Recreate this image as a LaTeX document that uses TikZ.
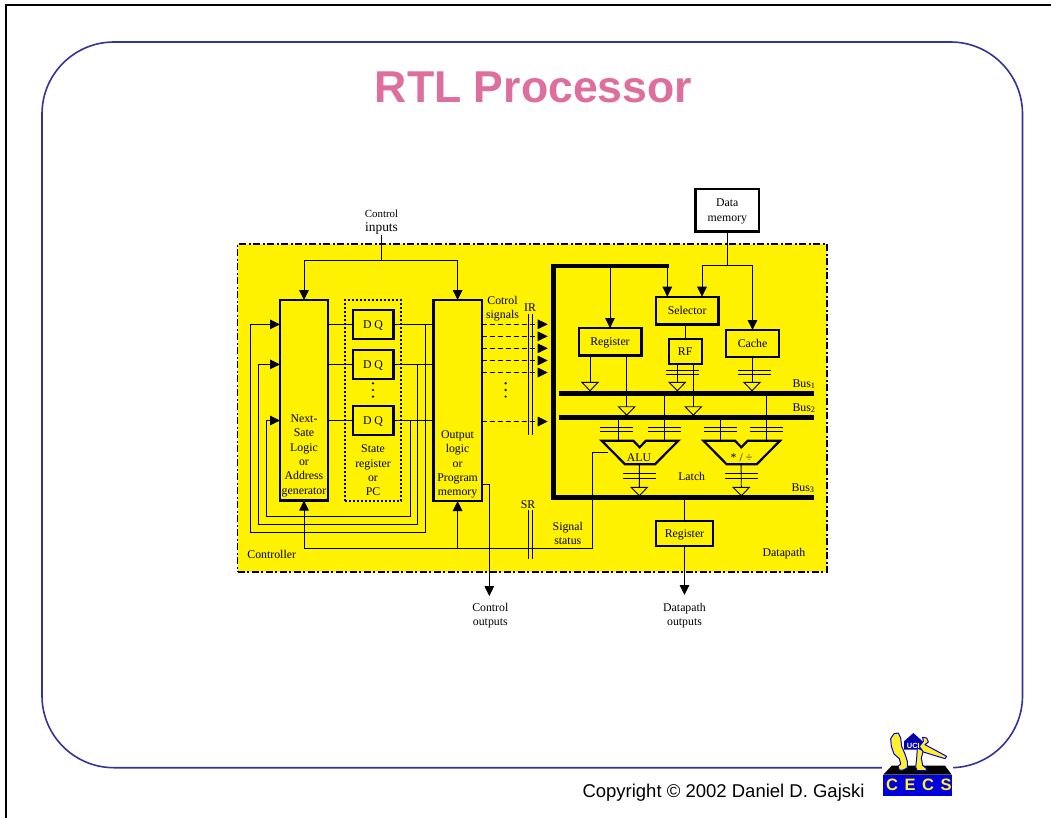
\documentclass[tikz,border=0pt]{standalone}
\usepackage{fontspec}
\setmainfont{Liberation Serif}
\newfontfamily\slidefont{Liberation Sans}
\usepackage{tikz}
\usetikzlibrary{
	arrows.meta, positioning, calc
}
\definecolor{chipyellow}   {RGB}{255, 242,   0}
\definecolor{slideblue}    {RGB}{ 51,  51, 153}
\definecolor{titlepink}    {RGB}{221, 110, 158}
\definecolor{logoblue}     {RGB}{  0,   0, 220}
\definecolor{logoyellow}   {RGB}{255, 240,  40}
\tikzset{
	bigtip/.tip={Triangle[length=10pt,width=9.6pt]},
	wire/.style={line width=0.9pt},
	feed/.style={wire,-{bigtip}},
	ctrl/.style={wire,dash pattern=on 5pt off 3pt,-{bigtip}},
	busline/.style={line width=4.4pt},
	blockbox/.style={draw,line width=2.4pt,fill=chipyellow,inner sep=0pt,outer sep=0pt,text depth=0pt,
		font=\fontsize{11.8}{14.4}\selectfont,align=center},
	lbl/.style={inner sep=0pt,outer sep=0pt,align=center,yshift=-1.2pt,font=\fontsize{11.8}{14.4}\selectfont},
	logopart/.style={draw=logoblue,fill=logoyellow,line width=1pt,line join=round},
	tribuf/.pic={\draw[wire,line join=miter] (-8.2,0)--(8.2,0)--(0,8.4)--cycle;},
	latchpair/.pic={\draw[wire] (-16.5,0)--(16.5,0) (-16.5,4.3)--(16.5,4.3);}
}
\begin{document}
\begin{tikzpicture}[x=1pt,y=-1pt]
	\useasboundingbox (0,0) rectangle (1051,818);
	% slide
	\fill[white] (0,0) rectangle (1051,818);
	\draw[line width=2pt] (1051,5.5)--(6,5.5)--(6,818);
	\draw[slideblue,line width=1.6pt,rounded corners=72pt] (42,42) rectangle (1022.5,767.7);
	\node[anchor=base,inner sep=0pt,text=titlepink,font=\slidefont\bfseries\fontsize{44.6}{50}\selectfont] (title) at (533.5,103) {RTL Processor};
	\node[anchor=base west,inner sep=0pt,font=\slidefont\fontsize{18.5}{22}\selectfont] (copy) at (582.3,797) {Copyright © 2002 Daniel D. Gajski};

	% yellow area
	\node[draw,fill=chipyellow,line width=1.8pt,dash pattern=on 7pt off 2.5pt on 2pt off 2.5pt,inner sep=0pt,outer sep=0pt,
		minimum width=589.5,minimum height=327.7] (chip) at (532.3,407.9) {};

	% controller
	\node[blockbox,minimum width=48,minimum height=200.6] (nextstate) at (304,400.3) {};
	\node[blockbox,minimum width=48.2,minimum height=201] (output) at (457.6,400.5) {};
	\node[draw,line width=2pt,dash pattern=on 2pt off 2pt,inner sep=0pt,outer sep=0pt,minimum width=56,minimum height=200.6] (statereg) at (373,400.3) {};
	\foreach \i/\y in {1/324.4,2/364.4,3/420.5}{
		\node[blockbox,minimum width=40.6,minimum height=28.6] (dq\i) at (373,\y) {D Q};
		\draw[wire] (nextstate.east |- dq\i.west) -- (dq\i.west);
		\draw[wire] (dq\i.east) -- (output.west |- dq\i.east);
	}
	% feedback loops
	\foreach \i/\tap/\out/\low in {1/425.7/250.7/532.3,2/417.7/258.7/524.3,3/410/266.3/516.3}{
		\coordinate (tap\i) at (\tap,0 |- dq\i.east);
		\coordinate (low\i) at (\out,\low);
		\draw[feed] (tap\i) |- (low\i) |- (nextstate.west |- dq\i.west);
	}
	\node[lbl] (nextlbl) at (304,454.5) {Next-\\Sate\\Logic\\or\\Address\\generator};
	\node[lbl] (outlbl) at (457.6,463.2) {Output\\logic\\or\\Program\\memory};
	\node[lbl] (statelbl) at (373,469.3) {State\\register\\or\\PC};
	\foreach \y in {383.3,390,396.6}{
		\fill (373,\y) circle (1.2pt);
		\fill (505.6,\y) circle (1.2pt);
	}

	% control in and out
	\node[lbl,font=\fontsize{10.9}{13}\selectfont] (ctrlin) at (381.5,212.5) {Control};
	\node[lbl,font=\fontsize{13.4}{15}\selectfont] (ctrlinb) at (381.5,227) {inputs};
	\coordinate (inj) at (381.7,260.5);
	\draw[wire] (381.7,235) -- (inj);
	\draw[feed] (inj) -| (nextstate.north);
	\draw[feed] (inj) -| (output.north);
	\coordinate (outj) at (489.3,596);
	\draw[feed] (output.east |- 0,484.3) -| (outj);
	\node[lbl] (ctrlout) at (490.3,614.3) {Control\\outputs};

	% control signals
	\foreach \n/\y in {1/324.3,2/336.3,3/348.3,4/360.5,5/372.5,6/421.5}{
		\coordinate (sig\n) at (547.7,\y);
		\draw[ctrl] (output.east |- sig\n) -- (sig\n);
	}
	\draw[wire] (528.3,314.3)--(528.3,435) (532.2,314.3)--(532.2,435);
	\draw[wire] (528.3,510)--(528.3,559) (532.2,510)--(532.2,559);
	\node[lbl] (cotrol) at (502.5,307.5) {Cotrol\\signals};
	\node[lbl] (irlbl) at (530,306) {IR};
	\node[lbl] (srlbl) at (528,503) {SR};
	\node[lbl] (siglbl) at (567.8,532.2) {Signal\\status};
	\node[lbl] (ctrllbl) at (271.7,553) {Controller};
	\node[lbl] (datalbl) at (784,552.7) {Datapath};

	% datapath busses
	\coordinate (btop) at (669,265.7);
	\coordinate (bcorner) at (553.3,265.7);
	\coordinate (bcornerb) at (553.3,497.3);
	\coordinate (b3r) at (814,497.3);
	\coordinate (b1l) at (559,393.3);
	\coordinate (b1r) at (814,393.3);
	\coordinate (b2l) at (559,417.3);
	\coordinate (b2r) at (814,417.3);
	\draw[busline,line join=miter] (btop)--(bcorner)--(bcornerb)--(b3r);
	\draw[busline] (b1l)--(b1r);
	\draw[busline] (b2l)--(b2r);
	\node[lbl] (bus1) at (804,383) {Bus\textsubscript{1}};
	\node[lbl] (bus2) at (804,407) {Bus\textsubscript{2}};
	\node[lbl] (bus3) at (803,487) {Bus\textsubscript{3}};

	% blocks
	\node[blockbox,fill=white,minimum width=63.3,minimum height=42.7] (datamem) at (727.3,210.3) {Data\\memory};
	\node[blockbox,minimum width=62.3,minimum height=27.6] (selector) at (687.2,310.5) {Selector};
	\node[blockbox,minimum width=62.6,minimum height=27.3] (regtop) at (610,341.7) {Register};
	\node[blockbox,minimum width=53,minimum height=27] (cache) at (752.5,343.5) {Cache};
	\node[blockbox,minimum width=33,minimum height=25] (rf) at (685.2,351.5) {RF};
	\node[blockbox,minimum width=57,minimum height=25] (regout) at (684.5,533.5) {Register};

	\coordinate (memj) at (727.3,265.5);
	\draw[wire] (datamem.south) -- (memj);
	\draw[feed] (memj) -| (702,0 |- selector.north);
	\draw[feed] (memj) -| (cache.north);
	\draw[feed] (667.3,265.7) -- (667.3,0 |- selector.north);
	\draw[feed] (regtop.north |- btop) -- (regtop.north);
	\draw[wire] (rf.north |- selector.south) -- (rf.north);

	% tri-state buffers
	\foreach \n/\x/\y in {r1/590/382.3,r2/626.7/406.7,f1/677.3/382.3,f2/693.3/406.7,c1/752/382.3,a1/639.3/487.3,m1/741.3/487.3}{
		\coordinate (buf\n) at (\x,\y);
		\pic at (buf\n) {tribuf};
	}
	\draw[wire] (regtop.south -| bufr1) -- (bufr1);
	\draw[wire] (regtop.south -| bufr2) -- (bufr2);
	\draw[wire] (rf.south -| buff1) -- (buff1);
	\draw[wire] (rf.south -| buff2) -- (buff2);
	\draw[wire] (cache.south -| bufc1) -- (bufc1);

	% latches
	\foreach \x/\y in {682.5/370,754.2/370,616.7/427.5,664.7/427.5,720.3/427.5,766.4/427.5,639.6/473.7,741.4/473.7}{
		\pic at (\x,\y) {latchpair};
	}

	% alu and multiplier
	\foreach \n/\dx in {alu/0,mul/101.7}{
		\draw[line width=2.2pt,line join=miter,shift={(\dx,0)}] (601.7,440.7)--(633.3,440.7)--(639.6,447.3)--(646,440.7)--(678.3,440.7)--(655,464.3)--(625,464.3)--cycle;
		\coordinate (\n i1) at ($(618.7,440.7)+(\dx,0)$);
		\coordinate (\n i2) at ($(664.3,440.7)+(\dx,0)$);
		\draw[wire] (\n i1 |- b2l) -- (\n i1);
		\draw[wire] (\n i2 |- b1l) -- (\n i2);
		\coordinate (\n o) at ($(639.4,464.3)+(\dx,0)$);
	}
	\draw[wire] (aluo) -- (bufa1);
	\draw[wire] (mulo) -- (bufm1);
	\node[lbl] (alulbl) at (639,456) {ALU};
	\node[lbl] (mullbl) at (741.5,456.5) {* / ÷};
	\node[lbl] (latchlbl) at (691.7,475) {Latch};

	% status and register output
	\coordinate (aluside) at (608.3,452.7);
	\coordinate (statj) at (457.6,548.3);
	\draw[feed] (aluside) -- (592.7,452.7) |- (statj) -| (nextstate.south);
	\draw[feed] (statj) -- (output.south);
	\draw[wire] (regout.north |- b3r) -- (regout.north);
	\coordinate (dpout) at (684.5,595);
	\draw[feed] (regout.south) -- (dpout);
	\node[lbl] (dplbl) at (684.5,614.3) {Datapath\\outputs};

	% logo
	\fill[white] (882,730) rectangle (953,798);
	\fill[black] (883.3,774.7)--(891.7,765.7)--(945,765.7)--(951.7,774.7)--cycle;
	\fill[logoblue] (883.3,774.7) rectangle (951.7,796.4);
	\begin{scope}[shift={(880,728)},x=0.3333pt,y=-0.3333pt]
		\fill[logoblue!80!black] (72,40)--(100,15)--(128,40)--(128,65)--(72,65)--cycle;
		\draw[logopart] (42,17)--(55,15)--(62,30)--(65,55)--(75,78)--(82,100)--(82,120)--(70,126)--(58,126)--(54,115)--(62,108)--(58,92)--(42,78)--(34,55)--(32,32)--cycle;
		\draw[logopart] (112,60)--(130,68)--(124,90)--(128,112)--(140,122)--(138,128)--(112,128)--(107,118)--(110,90)--cycle;
		\draw[logopart] (118,55)--(130,40)--(128,28)--(140,30)--(145,42)--(135,50)--(200,85)--(195,92)--(130,72)--cycle;
	\end{scope}
	\node[inner sep=0pt,text=white,font=\slidefont\bfseries\fontsize{7.5}{8}\selectfont] (ucilbl) at (913.3,746) {UCI};
	\foreach \n/\c/\x in {1/C/892,2/E/910,3/C/928,4/S/946}{
		\node[inner sep=0pt,text=logoyellow,font=\slidefont\bfseries\fontsize{16.5}{18}\selectfont] (lgt\n) at (\x,785.3) {\c};
	}
\end{tikzpicture}
\end{document}
